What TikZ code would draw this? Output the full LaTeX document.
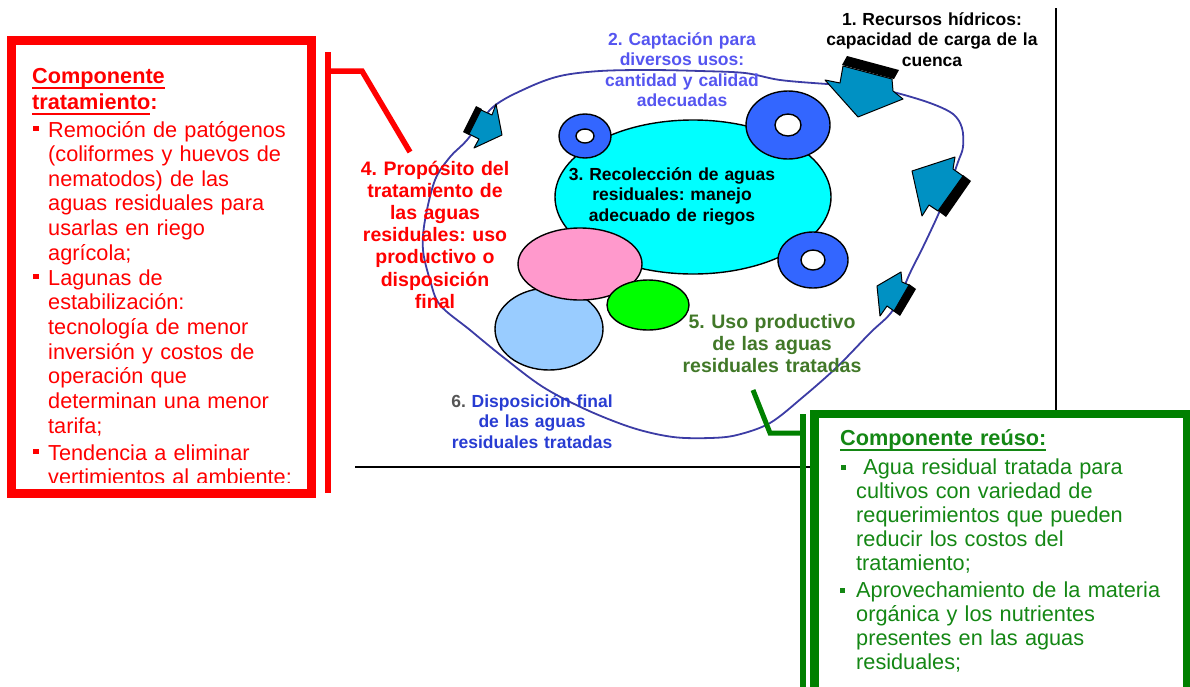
\documentclass[tikz,border=0pt]{standalone}
\usepackage{fontspec}
\setmainfont{Liberation Sans}
\frenchspacing
\definecolor{boxred}{RGB}{255,0,0}
\definecolor{boxgreen}{RGB}{0,128,0}
\definecolor{textgreen}{RGB}{20,135,20}
\definecolor{usegreen}{RGB}{65,120,40}
\definecolor{loopblue}{RGB}{60,60,165}
\definecolor{arrowteal}{RGB}{0,145,195}
\definecolor{ringblue}{RGB}{51,102,255}
\definecolor{capblue}{RGB}{85,85,240}
\definecolor{dispblue}{RGB}{40,60,210}
\definecolor{numgray}{RGB}{85,85,85}
\definecolor{basincyan}{RGB}{0,255,255}
\definecolor{pinkfill}{RGB}{255,153,204}
\definecolor{skyfill}{RGB}{153,204,255}
\definecolor{limefill}{RGB}{0,255,0}
% underline drawn a fixed distance below the baseline
\newcommand{\lineunder}[1]{\leavevmode\setbox0\hbox{#1}\rlap{\rule[-5.5pt]{\wd0}{1.8pt}}\box0}
\begin{document}
\begin{tikzpicture}[x=1pt,y=-1pt,
  smalllabel/.style={font=\bfseries\fontsize{17.5}{20.5}\selectfont, inner sep=0pt,
    text width=260pt, align=center, anchor=base},
  biglabel/.style={font=\bfseries\fontsize{19.5}{22.2}\selectfont, inner sep=0pt,
    text width=220pt, align=center, anchor=base},
  bodytext/.style={font=\fontsize{21.7}{#1}\selectfont, inner sep=0pt,
    text width=320pt, align=left, anchor=base west},
  titletext/.style={font=\bfseries\fontsize{21.7}{26}\selectfont, inner sep=0pt,
    text width=320pt, align=left, anchor=base west},
  blob/.style={draw=black, line width=1.4pt},
  ring/.style={draw=black, line width=1.4pt, fill=ringblue, even odd rule},
  flowarrow/.style={draw=black, line width=1pt, fill=arrowteal, line join=round},
  arrowside/.style={fill=black},
  loopline/.style={draw=loopblue, line width=1.8pt},
  frameline/.style={draw=black, line width=1.8pt},
  redbar/.style={draw=boxred, line width=5.5pt},
  greenbar/.style={draw=boxgreen, line width=6pt},
  bullet/.style={inner sep=0pt, minimum size=5.5pt, fill=#1},
]
\useasboundingbox (0,0) rectangle (1190,686);

% frame lines
\coordinate (frametop) at (1056,8);
\coordinate (framecorner) at (1056,467);
\coordinate (frameleft) at (355,467);
\draw[frameline] (frametop) -- (framecorner) -- (frameleft);

% cycle curve
\draw[loopline] plot[smooth cycle, tension=0.55] coordinates {
  (467,140) (493,107) (527,88) (560,76) (600,71) (650,70) (700,71) (745,73)
  (780,80) (827,84) (860,86) (893,92) (930,103) (953,114) (962,128) (963,147)
  (958,162) (948,190) (938,215) (923,247) (910,273) (893,310) (870,333)
  (837,367) (803,397) (770,423) (737,435) (710,438) (673,437) (633,428)
  (587,410) (543,387) (503,357) (470,330) (440,305) (430,280) (423,250)
  (425,220) (435,180) (450,157)};

% block arrows on the cycle
\fill[arrowside] (847,56) -- (899,70) -- (894,79) -- (842,65) -- cycle;
\path[flowarrow] (843,66) -- (892,79) -- (893,91) -- (903,99) -- (858,117)
  -- (825,80) -- (840,83) -- cycle;
\fill[arrowside] (963,175) -- (971,181) -- (946,217) -- (938,211) -- cycle;
\path[flowarrow] (912,171) -- (955,157) -- (953,169) -- (963,176) -- (938,211)
  -- (929,205) -- (922,216) -- cycle;
\fill[arrowside] (909,284) -- (916,289) -- (900,316) -- (893,311) -- cycle;
\path[flowarrow] (877,286) -- (901,272) -- (902,282) -- (909,285) -- (894,311)
  -- (887,306) -- (880,316) -- cycle;
\fill[arrowside] (476,106) -- (482,109) -- (469,135) -- (463,132) -- cycle;
\path[flowarrow] (481,110) -- (492,115) -- (496,104) -- (502,135) -- (474,148)
  -- (479,139) -- (469,134) -- cycle;

% basins
\path[blob, fill=basincyan] (693,197) ellipse [x radius=138pt, y radius=77pt];
\path[ring] (585,136) ellipse [x radius=26pt, y radius=22pt]
            (585,136) ellipse [x radius=9pt, y radius=7pt];
\path[ring] (788,125) ellipse [x radius=42pt, y radius=34pt]
            (788,125) ellipse [x radius=13pt, y radius=11pt];
\path[ring] (813,260) ellipse [x radius=35pt, y radius=28pt]
            (813,260) ellipse [x radius=12pt, y radius=10pt];
\path[blob, fill=skyfill] (549,329) ellipse [x radius=54pt, y radius=41pt];
\path[blob, fill=pinkfill] (580,264) ellipse [x radius=62pt, y radius=36pt];
\path[blob, fill=limefill] (648,305) ellipse [x radius=41pt, y radius=25pt];

% stage labels
\node[smalllabel] (resources) at (932,25) {1. Recursos hídricos:\\capacidad de carga de la\\cuenca};
\node[smalllabel, text=capblue] (intake) at (682,45) {2. Captación para\\diversos usos:\\cantidad y calidad\\adecuadas};
\node[smalllabel] (collection) at (672,180) {3. Recolección de aguas\\residuales: manejo\\adecuado de riegos};
\node[biglabel, text=boxred] (purpose) at (435,175) {4. Propósito del\\tratamiento de\\las aguas\\residuales: uso\\productivo o\\disposición\\final};
\node[biglabel, text=usegreen] (reuse) at (772,328) {5. Uso productivo\\de las aguas\\residuales tratadas};
\node[smalllabel, text=dispblue] (disposal) at (532,407) {{\color{numgray}6.} Disposición final\\de las aguas\\residuales tratadas};

% treatment component box
\draw[boxred, line width=9pt] (11.5,40.5) rectangle (311.5,493.5);
\coordinate (redbartop) at (328,52);
\coordinate (redbarbottom) at (328,493);
\coordinate (redknee) at (362,71);
\coordinate (redtip) at (410,152);
\draw[redbar] (redbartop) -- (redbarbottom);
\draw[redbar, line join=miter] (328,71) -- (redknee) -- (redtip);
\begin{scope}
  \clip (13,45) rectangle (307,482);
  \node[titletext, text=boxred] (redtitle) at (32,83) {\lineunder{Componente}\\\lineunder{tratamiento}:};
  \node[bodytext=24.6, text=boxred] (redone) at (48,137) {Remoción de patógenos\\(coliformes y huevos de\\nematodos) de las\\aguas residuales para\\usarlas en riego\\agrícola;};
  \node[bodytext=24.7, text=boxred] (redtwo) at (48,285) {Lagunas de\\estabilización:\\tecnología de menor\\inversión y costos de\\operación que\\determinan una menor\\tarifa;};
  \node[bodytext=24.4, text=boxred] (redthree) at (48,460) {Tendencia a eliminar\\vertimientos al ambiente;};
  \node[bullet=boxred] (redbulone) at (36,128.5) {};
  \node[bullet=boxred] (redbultwo) at (36,276.5) {};
  \node[bullet=boxred] (redbulthree) at (36,451.5) {};
\end{scope}

% reuse component box
\draw[boxgreen, line width=8.5pt, fill=white] (814.5,414) rectangle (1187,692);
\coordinate (greenbartop) at (802.5,414);
\coordinate (greenbarbottom) at (802.5,690);
\coordinate (greenknee) at (770,433);
\coordinate (greentip) at (753,390);
\draw[greenbar] (greenbartop) -- (greenbarbottom);
\draw[greenbar, line width=5pt, line join=miter] (802.5,433) -- (greenknee) -- (greentip);
\node[titletext, text=textgreen] (greentitle) at (840,445) {\lineunder{Componente reúso:}};
\node[bodytext=24.1, text=textgreen] (greenone) at (856,474) {\ Agua residual tratada para\\cultivos con variedad de\\requerimientos que pueden\\reducir los costos del\\tratamiento;};
\node[bodytext=24.3, text=textgreen] (greentwo) at (856,597) {Aprovechamiento de la materia\\orgánica y los nutrientes\\presentes en las aguas\\residuales;};
\node[bullet=textgreen, minimum size=5pt] (greenbulone) at (843,467.5) {};
\node[bullet=textgreen, minimum size=5pt] (greenbultwo) at (842,590.5) {};
\end{tikzpicture}
\end{document}
